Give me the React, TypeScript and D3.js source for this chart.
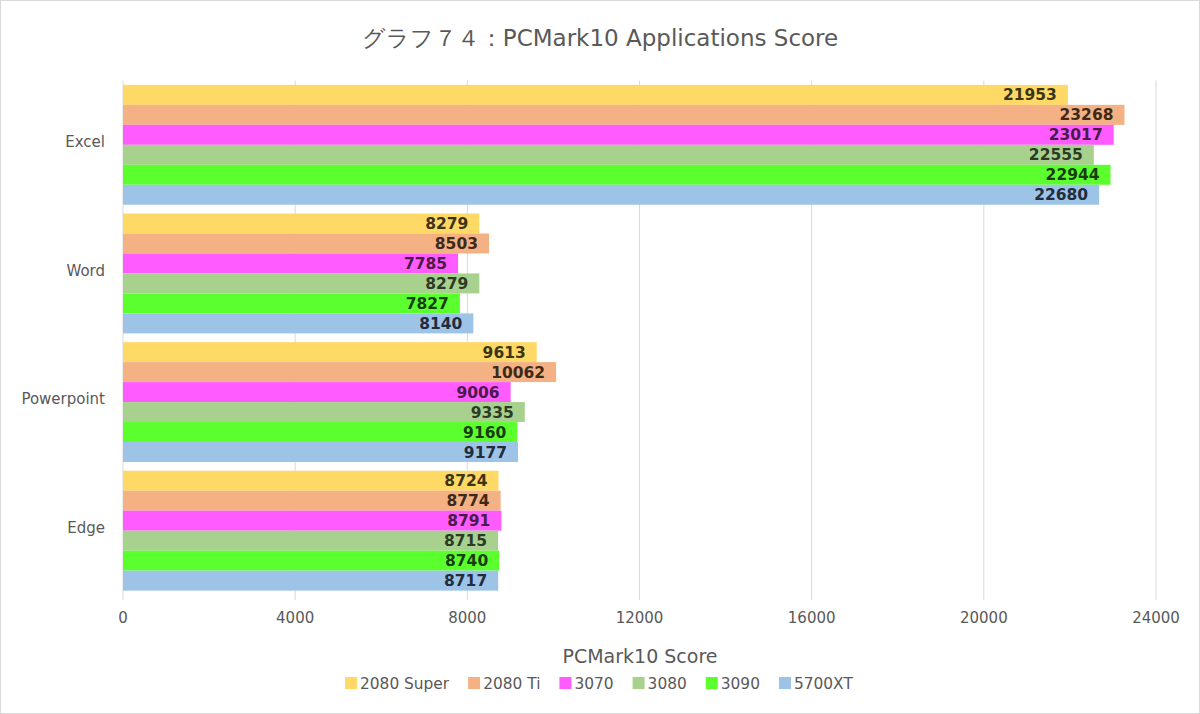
import React, { useEffect, useRef } from "react";
import * as d3 from "d3";

const categories = ["Excel", "Word", "Powerpoint", "Edge"];
const seriesNames = ["2080 Super", "2080 Ti", "3070", "3080", "3090", "5700XT"];
const s2080Super = [21953, 8279, 9613, 8724];
const s2080Ti = [23268, 8503, 10062, 8774];
const s3070 = [23017, 7785, 9006, 8791];
const s3080 = [22555, 8279, 9335, 8715];
const s3090 = [22944, 7827, 9160, 8740];
const s5700XT = [22680, 8140, 9177, 8717];
const seriesValues = [s2080Super, s2080Ti, s3070, s3080, s3090, s5700XT];
const xTicks = [0, 4000, 8000, 12000, 16000, 20000, 24000];
const fills = ["#FFD966", "#F4B183", "#FF5BFF", "#A9D18E", "#5CFF2E", "#9DC3E6"];
const labelColors = ["#3b3515", "#3d2a18", "#4a1a4a", "#2b3b26", "#183d10", "#1f2d3d"];

const W = 1200, H = 714;
const FONT = "Verdana, 'DejaVu Sans', sans-serif";

export default function App() {
  const ref = useRef<SVGSVGElement>(null);
  useEffect(() => {
    const svg = d3.select(ref.current);
    svg.selectAll("*").remove();
    svg.append("rect").attr("x", 0.5).attr("y", 0.5).attr("width", W - 1).attr("height", H - 1)
      .attr("fill", "#fff").attr("stroke", "#d9d9d9");

    const left = 123, right = 1156, top = 80.5, bottom = 595;
    const x = d3.scaleLinear().domain([0, 24000]).range([left, right]);
    const y0 = d3.scaleBand().domain(categories).range([top, bottom]).paddingInner(0.068).paddingOuter(0.034);
    const y1 = d3.scaleBand().domain(seriesNames).range([0, y0.bandwidth()]);

    // grid
    svg.append("g").selectAll("line").data(xTicks.slice(1)).join("line")
      .attr("x1", d => x(d)).attr("x2", d => x(d)).attr("y1", top).attr("y2", bottom + 5)
      .attr("stroke", "#d9d9d9").attr("stroke-width", 1);
    svg.append("line").attr("x1", left).attr("x2", left).attr("y1", top).attr("y2", bottom + 5)
      .attr("stroke", "#d9d9d9");

    // bars
    const g = svg.append("g");
    categories.forEach((c, ci) => {
      seriesNames.forEach((s, si) => {
        const v = seriesValues[si][ci];
        const yy = (y0(c) as number) + (y1(s) as number);
        g.append("rect").attr("x", x(0)).attr("y", yy).attr("width", x(v) - x(0)).attr("height", y1.bandwidth())
          .attr("fill", fills[si]);
        g.append("text").attr("x", x(v) - 11).attr("y", yy + y1.bandwidth() / 2).attr("dy", "0.36em")
          .attr("text-anchor", "end").attr("font-family", FONT).attr("font-weight", "bold")
          .attr("font-size", 15.5).attr("fill", labelColors[si]).text(String(v));
      });
      svg.append("text").attr("x", 105).attr("y", (y0(c) as number) + y0.bandwidth() / 2 - 3).attr("dy", "0.36em")
        .attr("text-anchor", "end").attr("font-family", FONT).attr("font-size", 15).attr("fill", "#595959").text(c);
    });

    // x tick labels
    svg.append("g").selectAll("text").data(xTicks).join("text")
      .attr("x", d => x(d)).attr("y", 623).attr("text-anchor", "middle")
      .attr("font-family", FONT).attr("font-size", 15).attr("fill", "#595959").text(d => String(d));

    // title
    svg.append("text").attr("x", 600).attr("y", 46).attr("text-anchor", "middle")
      .attr("font-family", FONT).attr("font-size", 23).attr("fill", "#595959")
      .text("グラフ７４：PCMark10 Applications Score");

    // axis title
    svg.append("text").attr("x", 640).attr("y", 663).attr("text-anchor", "middle")
      .attr("font-family", FONT).attr("font-size", 19).attr("fill", "#595959").text("PCMark10 Score");

    // legend
    const lg = svg.append("g");
    let lx = 345;
    seriesNames.forEach((s, si) => {
      lg.append("rect").attr("x", lx).attr("y", 677).attr("width", 12).attr("height", 12).attr("fill", fills[si]);
      const t = lg.append("text").attr("x", lx + 15).attr("y", 689).attr("font-family", FONT)
        .attr("font-size", 15.4).attr("fill", "#595959").text(s);
      const w = (t.node() as SVGTextElement).getComputedTextLength();
      lx += 15 + w + 19;
    });
  }, []);
  return (
    <svg ref={ref} width={W} height={H} style={{ position: "absolute", left: 0, top: 0 }} />
  );
}
